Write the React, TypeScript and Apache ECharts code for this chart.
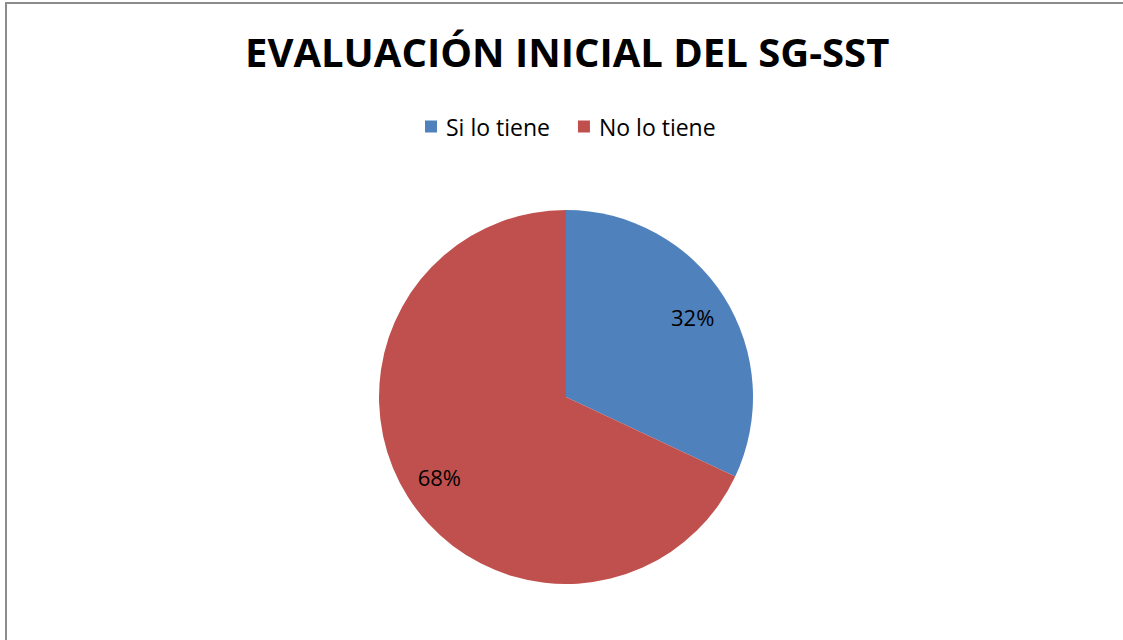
import React, { useEffect, useRef } from "react";
import * as echarts from "echarts";

const categories = ["Si lo tiene", "No lo tiene"];
const values = [32, 68];
const colors = ["#4F81BD", "#C0504D"];
const titleText = "EVALUACIÓN INICIAL DEL SG-SST";

export default function App() {
  const ref = useRef<HTMLDivElement>(null);
  useEffect(() => {
    if (!ref.current) return;
    document.documentElement.style.overflow = "hidden";
    document.body.style.overflow = "hidden";
    const chart = echarts.init(ref.current, undefined, { renderer: "svg" });
    const data = categories.map((name, i) => ({ name, value: values[i] }));
    chart.setOption({
      animation: false,
      backgroundColor: "#ffffff",
      color: colors,
      title: {
        text: titleText,
        left: 240,
        top: 26,
        textStyle: {
          fontFamily: "Open Sans",
          fontWeight: "bold",
          fontSize: 40,
          color: "#000000",
        },
      },
      legend: {
        top: 110,
        left: 420,
        itemWidth: 12,
        itemHeight: 12,
        itemGap: 28,
        icon: "rect",
        textStyle: { fontFamily: "Open Sans", fontSize: 23, color: "#000000", padding: [0, 0, 0, 4] },
        data: categories.map((name, i) => ({ name, itemStyle: { color: colors[i] } })),
      },
      graphic: [
        {
          type: "line",
          shape: { x1: 6, y1: 3, x2: 6, y2: 640 },
          style: { stroke: "#8c8c8c", lineWidth: 2 },
          silent: true,
        },
        {
          type: "line",
          shape: { x1: 5, y1: 3, x2: 1123, y2: 3 },
          style: { stroke: "#8c8c8c", lineWidth: 2 },
          silent: true,
        },
      ],
      series: [
        {
          type: "pie",
          center: [566, 397],
          radius: [0, 187],
          startAngle: 90,
          clockwise: true,
          label: { show: false },
          labelLine: { show: false },
          itemStyle: { borderWidth: 0 },
          data,
        },
        {
          type: "pie",
          center: [566, 397],
          radius: [108, 186],
          startAngle: 90,
          clockwise: true,
          silent: true,
          itemStyle: { color: "transparent", borderWidth: 0 },
          label: {
            show: true,
            position: "inside",
            formatter: "{c}%",
            fontFamily: "Open Sans",
            fontSize: 22,
            color: "#000000",
          },
          labelLine: { show: false },
          data,
        },
      ],
    });
    return () => chart.dispose();
  }, []);
  return (
    <div
      ref={ref}
      style={{ position: "absolute", left: 0, top: 0, width: 1123, height: 640 }}
    />
  );
}
